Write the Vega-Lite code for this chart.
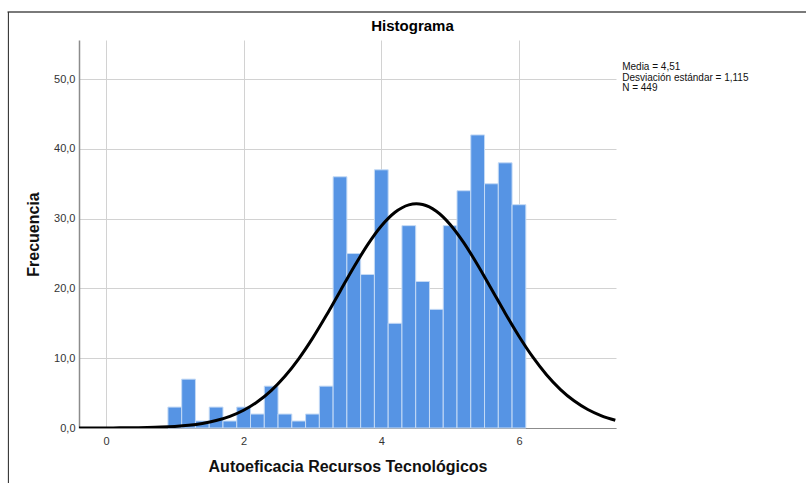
{
  "$schema": "https://vega.github.io/schema/vega-lite/v6.json",
  "width": 537,
  "height": 388,
  "autosize": {"type": "none"},
  "padding": {"left": 79, "top": 40, "right": 190, "bottom": 55},
  "background": "white",
  "config": {"font": "Liberation Sans", "view": {"stroke": null}},
  "title": {"text": "Histograma", "fontSize": 15, "fontWeight": "bold", "color": "#000000", "dx": 65, "dy": 29, "offset": 6, "font": "Liberation Sans"},
  "datasets": {
    "bins": [
      {"x0": 0.9, "x1": 1.1, "n": 3},
      {"x0": 1.1, "x1": 1.3, "n": 7},
      {"x0": 1.3, "x1": 1.5, "n": 1},
      {"x0": 1.5, "x1": 1.7, "n": 3},
      {"x0": 1.7, "x1": 1.9, "n": 1},
      {"x0": 1.9, "x1": 2.1, "n": 3},
      {"x0": 2.1, "x1": 2.3, "n": 2},
      {"x0": 2.3, "x1": 2.5, "n": 6},
      {"x0": 2.5, "x1": 2.7, "n": 2},
      {"x0": 2.7, "x1": 2.9, "n": 1},
      {"x0": 2.9, "x1": 3.1, "n": 2},
      {"x0": 3.1, "x1": 3.3, "n": 6},
      {"x0": 3.3, "x1": 3.5, "n": 36},
      {"x0": 3.5, "x1": 3.7, "n": 25},
      {"x0": 3.7, "x1": 3.9, "n": 22},
      {"x0": 3.9, "x1": 4.1, "n": 37},
      {"x0": 4.1, "x1": 4.3, "n": 15},
      {"x0": 4.3, "x1": 4.5, "n": 29},
      {"x0": 4.5, "x1": 4.7, "n": 21},
      {"x0": 4.7, "x1": 4.9, "n": 17},
      {"x0": 4.9, "x1": 5.1, "n": 29},
      {"x0": 5.1, "x1": 5.3, "n": 34},
      {"x0": 5.3, "x1": 5.5, "n": 42},
      {"x0": 5.5, "x1": 5.7, "n": 35},
      {"x0": 5.7, "x1": 5.9, "n": 38},
      {"x0": 5.9, "x1": 6.1, "n": 32}
    ],
    "curve": [
      {"x0": -0.4, "n": 0.002},
      {"x0": -0.2, "n": 0.004},
      {"x0": 0.0, "n": 0.009},
      {"x0": 0.2, "n": 0.018},
      {"x0": 0.4, "n": 0.036},
      {"x0": 0.6, "n": 0.069},
      {"x0": 0.8, "n": 0.127},
      {"x0": 1.0, "n": 0.227},
      {"x0": 1.2, "n": 0.392},
      {"x0": 1.4, "n": 0.657},
      {"x0": 1.6, "n": 1.066},
      {"x0": 1.8, "n": 1.676},
      {"x0": 2.0, "n": 2.55},
      {"x0": 2.2, "n": 3.757},
      {"x0": 2.4, "n": 5.362},
      {"x0": 2.6, "n": 7.408},
      {"x0": 2.8, "n": 9.913},
      {"x0": 3.0, "n": 12.843},
      {"x0": 3.2, "n": 16.113},
      {"x0": 3.4, "n": 19.576},
      {"x0": 3.6, "n": 23.03},
      {"x0": 3.8, "n": 26.234},
      {"x0": 4.0, "n": 28.939},
      {"x0": 4.2, "n": 30.912},
      {"x0": 4.4, "n": 31.974},
      {"x0": 4.51, "n": 32.13},
      {"x0": 4.6, "n": 32.025},
      {"x0": 4.8, "n": 31.061},
      {"x0": 5.0, "n": 29.172},
      {"x0": 5.2, "n": 26.53},
      {"x0": 5.4, "n": 23.364},
      {"x0": 5.6, "n": 19.925},
      {"x0": 5.8, "n": 16.454},
      {"x0": 6.0, "n": 13.156},
      {"x0": 6.2, "n": 10.187},
      {"x0": 6.4, "n": 7.638},
      {"x0": 6.6, "n": 5.547},
      {"x0": 6.8, "n": 3.899},
      {"x0": 7.0, "n": 2.654},
      {"x0": 7.2, "n": 1.75},
      {"x0": 7.4, "n": 1.117}
    ],
    "stats": [
      {"line": "Media = 4,51"}
    ]
  },
  "layer": [
    {
      "data": {"name": "bins"},
      "mark": {"type": "rect", "fill": "#5694e4", "stroke": "#c4daf5", "strokeWidth": 1},
      "encoding": {
        "x": {
          "field": "x0", "type": "quantitative",
          "scale": {"domain": [-0.392, 7.41], "nice": false, "zero": false},
          "axis": {
            "values": [0, 2, 4, 6], "format": "d", "grid": true, "gridColor": "#d2d2d2", "gridWidth": 1,
            "ticks": false, "domainColor": "#8c8c8c", "domainWidth": 1,
            "labelFontSize": 11, "labelColor": "#333333", "labelPadding": 7,
            "title": "Autoeficacia Recursos Tecnológicos", "titleFontSize": 16, "titleFontWeight": "bold",
            "titleColor": "#111111", "titleY": 38, "titleBaseline": "middle"
          }
        },
        "x2": {"field": "x1"},
        "y": {
          "field": "n", "type": "quantitative",
          "scale": {"domain": [0, 55.6], "nice": false, "zero": true},
          "axis": {
            "values": [0, 10, 20, 30, 40, 50], "grid": true, "gridColor": "#d2d2d2", "gridWidth": 1,
            "ticks": false, "domainColor": "#8c8c8c", "domainWidth": 1.5,
            "labelExpr": "replace(format(datum.value, '.1f'), '.', ',')",
            "labelFontSize": 11, "labelColor": "#333333", "labelPadding": 4,
            "title": "Frecuencia", "titleFontSize": 16, "titleFontWeight": "bold", "titleColor": "#111111",
            "titleX": -46, "titleY": 194, "titleBaseline": "middle", "titleAlign": "center"
          }
        },
        "y2": {"datum": 0}
      }
    },
    {
      "data": {"name": "curve"},
      "mark": {"type": "line", "color": "#000000", "strokeWidth": 3, "interpolate": "monotone", "clip": true},
      "encoding": {
        "x": {"field": "x0", "type": "quantitative"},
        "y": {"field": "n", "type": "quantitative"}
      }
    },
    {
      "data": {"name": "stats"},
      "mark": {"type": "text", "text": ["Media = 4,51", "Desviación estándar = 1,115", "N = 449"], "align": "left", "baseline": "alphabetic", "fontSize": 10, "lineHeight": 10.5, "color": "#111111"},
      "encoding": {
        "x": {"datum": 7.5},
        "y": {"datum": 51.3}
      }
    },
    {
      "data": {"name": "stats"},
      "mark": {"type": "rule", "color": "#7a7a7a", "strokeWidth": 2},
      "encoding": {
        "x": {"datum": -1.43},
        "x2": {"datum": 10.2},
        "y": {"datum": 59.6}
      }
    },
    {
      "data": {"name": "stats"},
      "mark": {"type": "rule", "color": "#222222", "strokeWidth": 1},
      "encoding": {
        "x": {"datum": -1.418},
        "y": {"datum": 59.6},
        "y2": {"datum": -8.5}
      }
    }
  ]
}
